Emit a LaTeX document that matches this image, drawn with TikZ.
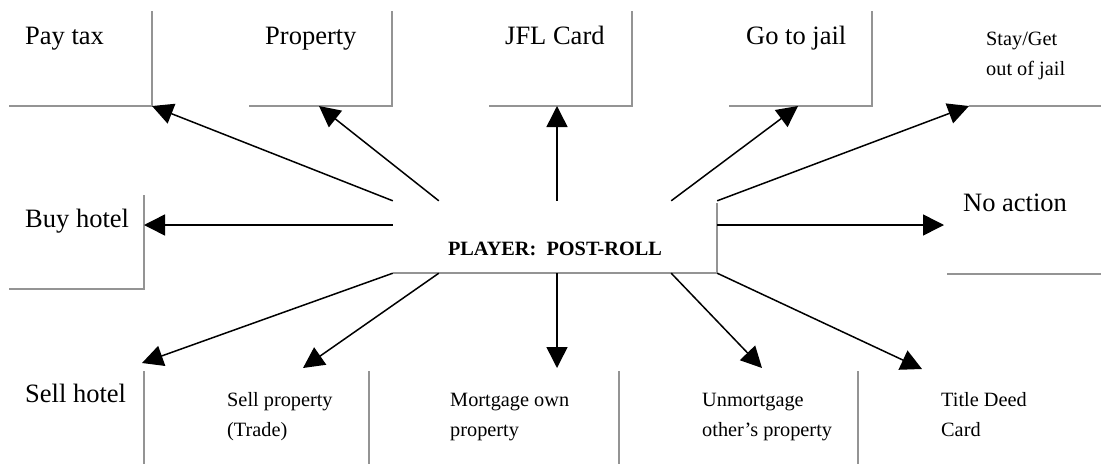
\documentclass[tikz,border=0pt]{standalone}
\usepackage{fontspec}
\setmainfont{Liberation Serif}
\usetikzlibrary{arrows.meta}

\tikzset{
  frame/.style={draw=black!42, line width=1.7pt},
  arr/.style={draw=black, line width=1.5pt, -{Triangle[length=21pt,width=21pt]}},
  bigtext/.style={anchor=base west, inner sep=0pt, font=\fontsize{26.5}{31}\selectfont},
  smalltext/.style={anchor=base west, inner sep=0pt, font=\fontsize{20.3}{30.5}\selectfont},
  hub/.style={inner sep=0pt, minimum width=324pt, minimum height=72pt,
              text height=36pt, text depth=0pt,
              font=\fontsize{20.3}{24}\selectfont\bfseries}
}
\newcommand{\twolines}[2]{\begin{tabular}[t]{@{}l@{}}#1\\#2\end{tabular}}

\begin{document}
\begin{tikzpicture}[x=1pt,y=-1pt]
\useasboundingbox (0,0) rectangle (1101,464);

% central player node
\node[hub] (player) at (555,237) {PLAYER:\ \ POST-ROLL};
\draw[frame] (player.south west) -- (player.south east) -- ([yshift=-2pt]player.north east);

% top row
\node[bigtext] (paytax) at (25,44) {Pay tax};
\node[bigtext] (property) at (265,44) {Property};
\node[bigtext] (jfl) at (505,44) {JFL Card};
\node[bigtext] (jail) at (746,44) {Go to jail};
\node[smalltext] (stay) at (986,45) {\twolines{Stay/Get}{out of jail}};

\coordinate (paytaxT) at (152,106);
\coordinate (propertyT) at (319,106);
\coordinate (jflT) at (557,106);
\coordinate (jailT) at (798,106);
\coordinate (stayT) at (969,106);

\draw[frame] (9,106) -- (152,106) -- (152,11);
\draw[frame] (249,106) -- (392,106) -- (392,11);
\draw[frame] (489,106) -- (632,106) -- (632,11);
\draw[frame] (729,106) -- (872,106) -- (872,11);
\draw[frame] (969,106) -- (1101,106);

% middle row
\node[bigtext] (buy) at (25,227) {Buy hotel};
\node[bigtext] (noaction) at (963,211) {No action};
\coordinate (buyT) at (144,225);
\coordinate (noactionT) at (944,225);
\draw[frame] (9,289) -- (144,289) -- (144,195);
\draw[frame] (947,274) -- (1101,274);

% bottom row
\node[bigtext] (sellhotel) at (25,402) {Sell hotel};
\node[smalltext] (sellprop) at (227,406) {\twolines{Sell property}{(Trade)}};
\node[smalltext] (mortgage) at (450,406) {\twolines{Mortgage own}{property}};
\node[smalltext] (unmortgage) at (702,406) {\twolines{Unmortgage}{other’s property}};
\node[smalltext] (titledeed) at (941,406) {\twolines{Title Deed}{Card}};

\coordinate (sellhotelT) at (142,363);
\coordinate (sellpropT) at (303,368);
\coordinate (mortgageT) at (557,368);
\coordinate (unmortgageT) at (762,368);
\coordinate (titledeedT) at (922,369);

\foreach \xx in {144,369,619,858}
  \draw[frame] (\xx,371) -- (\xx,464);

% connectors from the player
\draw[arr] (player.north west) -- (paytaxT);
\draw[arr] ([xshift=46pt]player.north west) -- (propertyT);
\draw[arr] ([xshift=2pt]player.north) -- (jflT);
\draw[arr] ([xshift=-46pt]player.north east) -- (jailT);
\draw[arr] (player.north east) -- (stayT);
\draw[arr] ([yshift=12pt]player.west) -- (buyT);
\draw[arr] ([yshift=12pt]player.east) -- (noactionT);
\draw[arr] (player.south west) -- (sellhotelT);
\draw[arr] ([xshift=46pt]player.south west) -- (sellpropT);
\draw[arr] ([xshift=2pt]player.south) -- (mortgageT);
\draw[arr] ([xshift=-46pt]player.south east) -- (unmortgageT);
\draw[arr] (player.south east) -- (titledeedT);
\end{tikzpicture}
\end{document}
